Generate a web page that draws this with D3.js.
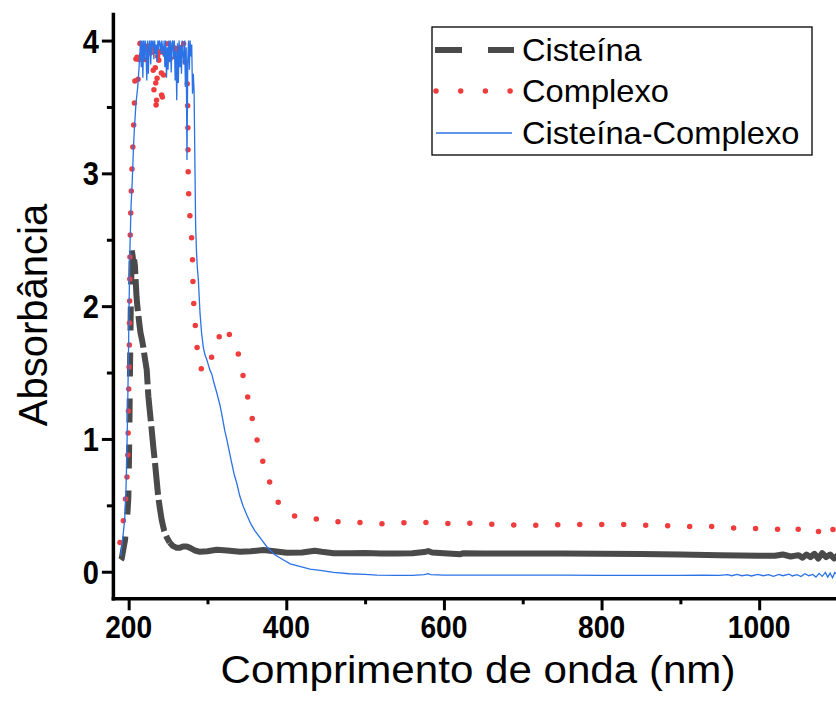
<!DOCTYPE html>
<html><head><meta charset="utf-8">
<script src="https://cdn.jsdelivr.net/npm/d3@7/dist/d3.min.js"></script>
<style>body{margin:0;background:#fff}svg{display:block}</style>
</head><body><svg id="c" width="836" height="719"></svg>
<script>
// [wavelength nm, absorbance]
const cisteina = [[190,0.09],[191.2,0.10],[193,0.16],[195.4,0.24],[197,0.35],[198.5,0.45],[199.6,0.56],[200.3,0.8],[200.9,1.07],[201.7,1.52],[202.6,1.95],[203.4,2.25],[203.9,2.42],[205,2.38],[206,2.32],[207,2.35],[208,2.30],[209,2.18],[210,2.07],[211,2.0],[212,1.95],[213.5,1.87],[215,1.8],[216.8,1.75],[218.6,1.69],[220.5,1.61],[222.9,1.52],[225,1.32],[227,1.2],[229.2,1.07],[231.3,0.94],[233.4,0.82],[235.5,0.69],[237.6,0.56],[239.8,0.47],[241.9,0.39],[245,0.31],[248.3,0.26],[252,0.22],[256,0.195],[261,0.18],[265,0.18],[269,0.19],[273.7,0.19],[278,0.18],[284,0.16],[290.5,0.15],[300,0.155],[311.7,0.165],[325,0.16],[341.3,0.15],[355,0.155],[370.9,0.163],[385,0.155],[400.6,0.143],[420,0.145],[436,0.158],[445,0.15],[460,0.14],[480,0.14],[500,0.142],[520,0.138],[540,0.137],[560,0.14],[575,0.148],[580,0.156],[585,0.145],[600,0.14],[621,0.132],[625,0.14],[650,0.137],[700,0.138],[750,0.137],[800,0.135],[850,0.134],[900,0.13],[950,0.125],[1000,0.12],[1020,0.12],[1030,0.13],[1040,0.115],[1050,0.125],[1055,0.105],[1060,0.13],[1065,0.11],[1070,0.135],[1075,0.1],[1080,0.14],[1085,0.11],[1090,0.13],[1095,0.1],[1100,0.125]];

const complexo = [[189,0.22],[190,0.28],[192.4,0.34],[195.3,0.49],[197.5,0.67],[198.8,0.82],[199.6,1.17],[200.9,1.72],[201.7,2.45],[203,2.8],[203.9,2.99],[205.1,3.16],[205.9,3.30],[207,3.45],[208,3.72],[210,3.95],[212,3.7],[214,4.0],[216,3.85],[218,4.0],[220,3.82],[222,3.99],[224,3.86],[226,4.0],[228,3.88],[230,3.98],[232,3.62],[234,3.82],[235,3.45],[237,3.95],[239,3.8],[241,4.0],[242,3.5],[244,3.7],[246,3.98],[248,3.85],[250,4.0],[252,3.78],[254,3.99],[256,3.9],[258,3.98],[260,3.85],[262,3.97],[264,3.82],[266,3.95],[268,3.88],[270,3.99],[272,3.8],[274,3.75],[274.5,3.63],[275,3.45],[275.2,3.28],[275.4,3.09],[275.7,2.91],[277,2.72],[279,2.61],[280.8,2.42],[281.3,2.25],[282,2.07],[284,1.90],[286.3,1.71],[290.5,1.54],[296,1.5],[302.3,1.55],[309.6,1.71],[315,1.77],[321,1.85],[325,1.80],[332.7,1.76],[336,1.71],[341.3,1.59],[346.4,1.44],[353.1,1.26],[359,1.09],[365.8,0.92],[374.3,0.75],[382.8,0.61],[390,0.52],[397.5,0.46],[405,0.43],[416.6,0.41],[436.5,0.40],[450,0.38],[470,0.375],[500,0.37],[527,0.36],[553,0.37],[578,0.37],[591,0.37],[612,0.36],[640,0.367],[669,0.354],[700,0.35],[730,0.35],[759,0.357],[789,0.354],[817,0.36],[843,0.35],[867,0.35],[891,0.346],[915,0.34],[940,0.34],[966,0.33],[986,0.33],[1004,0.32],[1022,0.32],[1032,0.316],[1044,0.34],[1052,0.31],[1061,0.33],[1067,0.32],[1075,0.30],[1080,0.35],[1082,0.37],[1088,0.35],[1095,0.31],[1100,0.32]];

const cisteinaComplexo = [[190,0.12],[191,0.18],[193,0.28],[195,0.40],[196.5,0.6],[197.5,0.82],[198.5,1.15],[199.6,1.57],[200.5,2.0],[201.7,2.45],[203,2.75],[204.6,2.95],[206,3.18],[207.2,3.33],[209.3,3.53],[211.5,3.65],[213,3.78],[214.4,3.92],[215,4.0],[216,3.8],[217,4.0],[218,3.72],[219,4.0],[220,3.85],[221,4.0],[222,3.9],[223,3.7],[224,4.0],[225,3.75],[226,3.98],[227,4.0],[228,3.82],[229,4.0],[230,3.95],[231,4.0],[232,3.86],[233,4.0],[234,3.9],[235,3.97],[236,3.84],[237,4.0],[238,3.93],[239,4.0],[240,3.98],[241,3.9],[242,4.0],[243,3.95],[244,3.88],[245,4.0],[246,3.8],[247,4.0],[248,3.72],[249,3.95],[250,3.78],[251,4.0],[252,3.84],[253,4.0],[254,3.76],[255,3.98],[256,4.0],[257,3.86],[258,4.0],[259,3.7],[260,3.92],[261,3.55],[262,3.98],[263,3.68],[264,4.0],[265,3.8],[266,3.96],[267,3.75],[268,4.0],[269,3.9],[270,3.82],[271,4.0],[272,3.65],[273,3.95],[274,3.1],[275,3.85],[276,4.0],[277,3.78],[278,4.0],[279,3.88],[280,3.97],[281,3.6],[282,3.75],[283,3.62],[284,3.1],[285,2.6],[286,2.42],[287,2.3],[288.4,2.2],[290.5,1.95],[292.5,1.8],[294.7,1.69],[297,1.63],[299,1.6],[301,1.56],[303,1.52],[305.4,1.49],[307.4,1.44],[311.7,1.35],[316,1.25],[318,1.19],[322,1.06],[324.4,1.0],[328.6,0.88],[330.7,0.82],[334,0.73],[337,0.67],[341,0.57],[345.5,0.49],[349.8,0.43],[355,0.36],[360,0.31],[368.8,0.24],[375,0.19],[385,0.13],[396,0.09],[405,0.06],[417,0.04],[430,0.02],[443,0.01],[460,-0.005],[480,-0.015],[500,-0.02],[515,-0.025],[540,-0.027],[560,-0.027],[575,-0.022],[580,-0.015],[583,-0.022],[600,-0.026],[650,-0.025],[700,-0.026],[750,-0.026],[800,-0.027],[850,-0.027],[900,-0.027],[930,-0.025],[950,-0.028],[960,-0.022],[965,-0.03],[972,-0.02],[978,-0.03],[985,-0.024],[990,-0.032],[998,-0.02],[1005,-0.03],[1012,-0.022],[1018,-0.035],[1025,-0.02],[1030,-0.03],[1038,-0.018],[1042,-0.032],[1048,-0.022],[1053,-0.036],[1058,-0.015],[1063,-0.03],[1068,-0.02],[1072,-0.04],[1076,-0.012],[1080,-0.035],[1084,-0.005],[1087,-0.04],[1090,-0.01],[1093,-0.045],[1096,-0.005],[1100,-0.03]];

const xTicks = [200,400,600,800,1000];
const xMinorTicks = [300,500,700,900];
const yTicks = [0,1,2,3,4];
const yMinorTicks = [0.5,1.5,2.5,3.5];
const seriesNames = ["Cisteína","Complexo","Cisteína-Complexo"];
const xTitle = "Comprimento de onda (nm)";
const yTitle = "Absorbância";

const GRAY = "#4a4a4a", RED = "#ef3d3d", BLUE = "#2a72e5";

const svg = d3.select("#c");
svg.append("rect").attr("width",836).attr("height",719).attr("fill","#fff");

const x = d3.scaleLinear().domain([180,1100]).range([112.9,838]);
const y = d3.scaleLinear().domain([-0.2,4.2]).range([598.3,14]);

const line = d3.line().x(d=>x(d[0])).y(d=>y(d[1]));

// Cisteína: dashed where the curve is steep, visually continuous where dense & noisy
svg.append("path").datum(cisteina.filter(d=>d[0]<=203.9))
  .attr("d",line).attr("fill","none").attr("stroke",GRAY).attr("stroke-width",6)
  .attr("stroke-dasharray","24,22");
svg.append("path").datum(cisteina.filter(d=>d[0]>=203.9 && d[0]<=252))
  .attr("d",line).attr("fill","none").attr("stroke",GRAY).attr("stroke-width",6)
  .attr("stroke-dasharray","32,5");
svg.append("path").datum(cisteina.filter(d=>d[0]>=252))
  .attr("d",line).attr("fill","none").attr("stroke",GRAY).attr("stroke-width",6)
  .attr("stroke-linejoin","round");

svg.append("path").datum(complexo)
  .attr("d",line).attr("fill","none").attr("stroke",RED).attr("stroke-width",5.5)
  .attr("stroke-linecap","round").attr("stroke-dasharray","0,22");

svg.append("path").datum(cisteinaComplexo)
  .attr("d",line).attr("fill","none").attr("stroke",BLUE).attr("stroke-width",1.3);

// axes
const axW = 3.5;
svg.append("g").attr("transform",`translate(0,${y(-0.2)})`)
  .call(d3.axisBottom(x).tickValues(xTicks).tickSize(12).tickSizeOuter(0).tickFormat(""));
svg.append("g").attr("transform",`translate(0,${y(-0.2)})`)
  .call(d3.axisBottom(x).tickValues(xMinorTicks).tickSize(6).tickSizeOuter(0).tickFormat(""))
  .select(".domain").remove();
svg.append("g").attr("transform",`translate(${x(180)},0)`)
  .call(d3.axisLeft(y).tickValues(yTicks).tickSize(11).tickSizeOuter(0).tickFormat(""));
svg.append("g").attr("transform",`translate(${x(180)},0)`)
  .call(d3.axisLeft(y).tickValues(yMinorTicks).tickSize(6).tickSizeOuter(0).tickFormat(""))
  .select(".domain").remove();
svg.selectAll(".domain").attr("stroke","#000").attr("stroke-width",axW).attr("stroke-linecap","square");
svg.selectAll(".tick line").attr("stroke","#000").attr("stroke-width",3);

// tick labels (bold, slightly condensed)
svg.append("g").selectAll("text").data(xTicks).join("text")
  .attr("transform",d=>`translate(${x(d)},638) scale(0.88,1)`)
  .attr("text-anchor","middle").attr("font-family","Liberation Sans, Arial, sans-serif")
  .attr("font-weight","bold").attr("font-size",32).attr("fill","#000").text(d=>d);
svg.append("g").selectAll("text").data(yTicks).join("text")
  .attr("transform",d=>`translate(99,${y(d)+12}) scale(0.88,1)`)
  .attr("text-anchor","end").attr("font-family","Liberation Sans, Arial, sans-serif")
  .attr("font-weight","bold").attr("font-size",33).attr("fill","#000").text(d=>d);

// axis titles
svg.append("text").attr("transform","translate(478,683) scale(1.08,1)")
  .attr("text-anchor","middle").attr("font-family","Liberation Sans, Arial, sans-serif")
  .attr("font-size",39).attr("fill","#000").text(xTitle);
svg.append("text").attr("transform","translate(47,315) rotate(-90)")
  .attr("text-anchor","middle").attr("font-family","Liberation Sans, Arial, sans-serif")
  .attr("font-size",40).attr("fill","#000").text(yTitle);

// legend
const lg = svg.append("g");
lg.append("rect").attr("x",432).attr("y",27).attr("width",380).attr("height",128)
  .attr("fill","#fff").attr("stroke","#000").attr("stroke-width",1.3);
const rows = [50,91,133];
const styles = [
  {stroke:GRAY,w:6,dash:"27,26",cap:"butt",x1:435,x2:514},
  {stroke:RED,w:5.5,dash:"0,24.7",cap:"round",x1:436,x2:512},
  {stroke:BLUE,w:1.3,dash:null,cap:"butt",x1:436,x2:512}
];
seriesNames.forEach((n,i)=>{
  const s = styles[i];
  lg.append("line").attr("x1",s.x1).attr("x2",s.x2).attr("y1",rows[i]).attr("y2",rows[i])
    .attr("stroke",s.stroke).attr("stroke-width",s.w).attr("stroke-linecap",s.cap)
    .attr("stroke-dasharray",s.dash);
  lg.append("text").attr("transform",`translate(522,${rows[i]+11}) scale(1.07,1)`)
    .attr("font-family","Liberation Sans, Arial, sans-serif").attr("font-size",30.5)
    .attr("fill","#000").text(n);
});
</script></body></html>
